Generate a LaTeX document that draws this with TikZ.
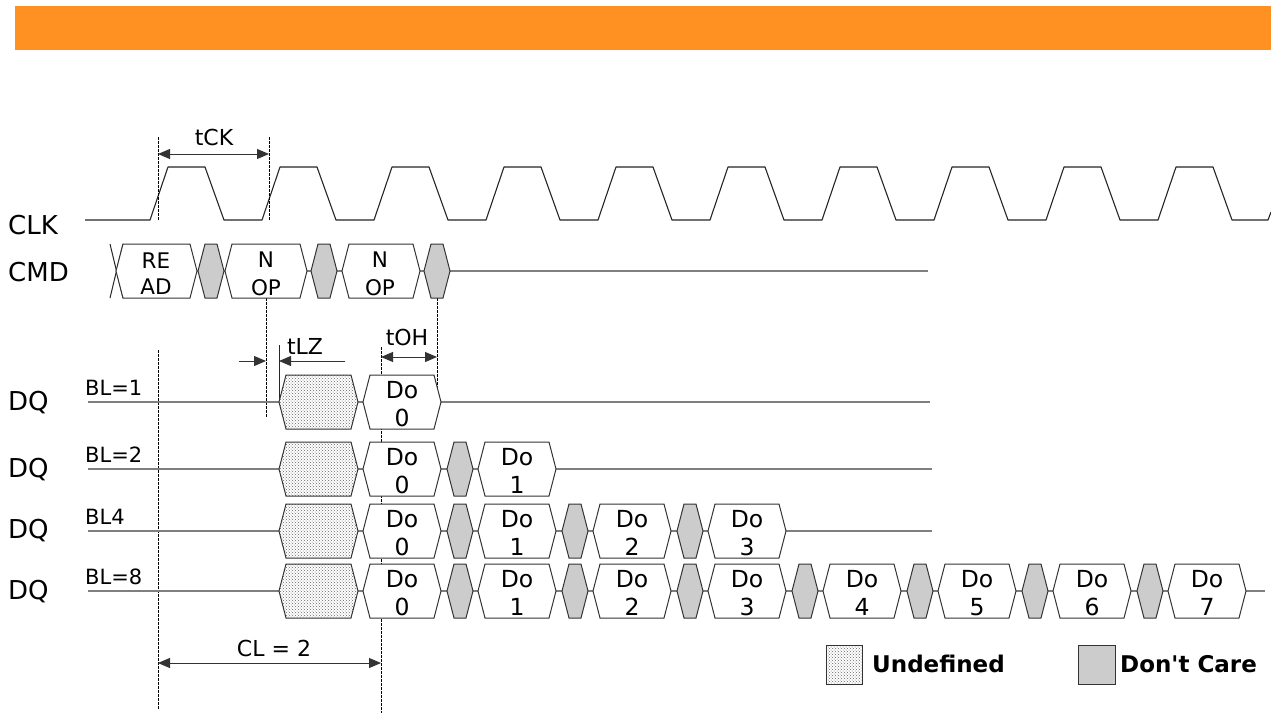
\documentclass[tikz,border=0pt]{standalone}
\usepackage{fontspec}
\setmainfont{DejaVu Sans}
\usetikzlibrary{arrows.meta,patterns}

\definecolor{bannerorange}{HTML}{FF9123}
\definecolor{linegray}{HTML}{7F7F7F}

\tikzset{
    wave/.style={line width=1.1pt, black!85, line join=round},
    busline/.style={line width=1.6pt, linegray},
    busbox/.style={line width=1pt, draw=black!80, fill=white},
    dontcare/.style={line width=1pt, draw=black!80, fill=black!20},
    undef/.style={line width=1pt, draw=black!80, preaction={fill=white}, pattern=crosshatch dots, pattern color=black!60},
    guide/.style={line width=1pt, black, dash pattern=on 3pt off 1pt},
    solidtick/.style={line width=1pt, black!85},
    dimarrow/.style={line width=1pt, black!80, {Triangle[length=12pt,width=10pt]}-{Triangle[length=12pt,width=10pt]}},
    onearrow/.style={line width=1pt, black!80, -{Triangle[length=12pt,width=10pt]}},
    siglabel/.style={font=\fontsize{26}{30}\selectfont, anchor=west, inner sep=0pt},
    bllabel/.style={font=\fontsize{21}{24}\selectfont, anchor=base west, inner sep=0pt},
    timelabel/.style={font=\fontsize{22}{24}\selectfont, inner sep=0pt},
    datatext/.style={font=\fontsize{23.5}{26}\selectfont, inner sep=0pt},
    cmdtext/.style={font=\fontsize{21.5}{24}\selectfont, inner sep=0pt},
    legendtext/.style={font=\bfseries\fontsize{23}{26}\selectfont, anchor=west, inner sep=0pt}
}

% hexagon bus segment: left x, right x, centre y, style
\newcommand{\hexseg}[4]{%
    \draw[#4] (#1,#3) -- (#1+7,#3-27) -- (#2-7,#3-27) -- (#2,#3) -- (#2-7,#3+27) -- (#1+7,#3+27) -- cycle;}

% DQ row: centre y, last Do index, end of line, burst label
\newcommand{\dqrow}[4]{%
    \draw[busline] (88,#1) -- (#3,#1);
    \node[bllabel] (bl#1) at (85,#1-7) {#4};
    \hexseg{279}{358}{#1}{undef}
    \foreach \k in {0,...,#2}{
        \pgfmathsetmacro{\L}{363+115*\k}
        \ifnum\k>0 \hexseg{\L-31}{\L-5}{#1}{dontcare}\fi
        \hexseg{\L}{\L+78}{#1}{busbox}
        \node[datatext] (do#1a\k) at (\L+39,#1-12) {Do};
        \node[datatext] (do#1b\k) at (\L+39,#1+16) {\k};
    }
}

\begin{document}
\begin{tikzpicture}[x=1pt, y=-1pt]
    \useasboundingbox (0,0) rectangle (1271,713);
    \fill[white] (0,0) rectangle (1271,713);

    % Banner
    \fill[bannerorange] (15,6) rectangle (1271,50);

    % Signal names
    \node[siglabel] (clk) at (8,225) {CLK};
    \node[siglabel] (cmd) at (8,272) {CMD};
    \foreach \y/\n in {403/1, 470/2, 531/3, 592/4}
        \node[siglabel] (dq\n) at (8,\y) {DQ};

    % Clock
    \draw[wave] (85,220)
        \foreach \k in {0,...,9}{
            -- (150+112*\k,220) -- (168+112*\k,167) -- (205+112*\k,167) -- (224+112*\k,220)
        } -- (1268,220) -- (1271,212);

    % Guide lines
    \draw[guide] (158,137) -- (158,220);
    \draw[guide] (269,137) -- (269,220);
    \draw[guide] (266,298) -- (266,417);
    \draw[guide] (437,298) -- (437,390);
    \draw[guide] (158,350) -- (158,710);
    \draw[guide] (381,347) -- (381,713);
    \draw[solidtick] (279,345) -- (279,402);

    % tCK
    \coordinate (ckA) at (158,154);
    \coordinate (ckB) at (269,154);
    \draw[dimarrow] (ckA) -- (ckB);
    \node[timelabel] (tck) at (214,137) {tCK};

    % Command bus
    \draw[busline] (117,271) -- (928,271);
    \draw[solidtick] (110,244) -- (123,298);
    \draw[solidtick] (123,244) -- (110,298);
    \hexseg{116}{197}{271}{busbox}
    \hexseg{198}{224}{271}{dontcare}
    \hexseg{225}{307}{271}{busbox}
    \hexseg{311}{337}{271}{dontcare}
    \hexseg{342}{420}{271}{busbox}
    \hexseg{424}{450}{271}{dontcare}
    \node[cmdtext] (re) at (156,261) {RE};
    \node[cmdtext] (ad) at (156,287) {AD};
    \node[cmdtext] (nA) at (266,260) {N};
    \node[cmdtext] (opA) at (266,288) {OP};
    \node[cmdtext] (nB) at (380,260) {N};
    \node[cmdtext] (opB) at (380,288) {OP};

    % tLZ and tOH
    \coordinate (lzA) at (239,361);
    \coordinate (lzB) at (266,361);
    \coordinate (lzC) at (345,361);
    \coordinate (lzD) at (279,361);
    \draw[onearrow] (lzA) -- (lzB);
    \draw[onearrow] (lzC) -- (lzD);
    \node[timelabel] (tlz) at (305,346) {tLZ};
    \coordinate (ohA) at (381,357);
    \coordinate (ohB) at (437,357);
    \draw[dimarrow] (ohA) -- (ohB);
    \node[timelabel] (toh) at (407,337) {tOH};

    % Data rows
    \dqrow{402}{0}{930}{BL=1}
    \dqrow{469}{1}{932}{BL=2}
    \dqrow{531}{3}{932}{BL4}
    \dqrow{591}{7}{1265}{BL=8}

    % CL
    \coordinate (clA) at (158,663);
    \coordinate (clB) at (381,663);
    \draw[dimarrow] (clA) -- (clB);
    \node[timelabel] (cl) at (274,648) {CL = 2};

    % Legend
    \draw[undef] (826,645) rectangle (862,684);
    \node[legendtext] (lgu) at (872,664) {Undefined};
    \draw[dontcare] (1078,645) rectangle (1115,684);
    \node[legendtext] (lgd) at (1120,664) {Don\textquotesingle t Care};
\end{tikzpicture}
\end{document}
